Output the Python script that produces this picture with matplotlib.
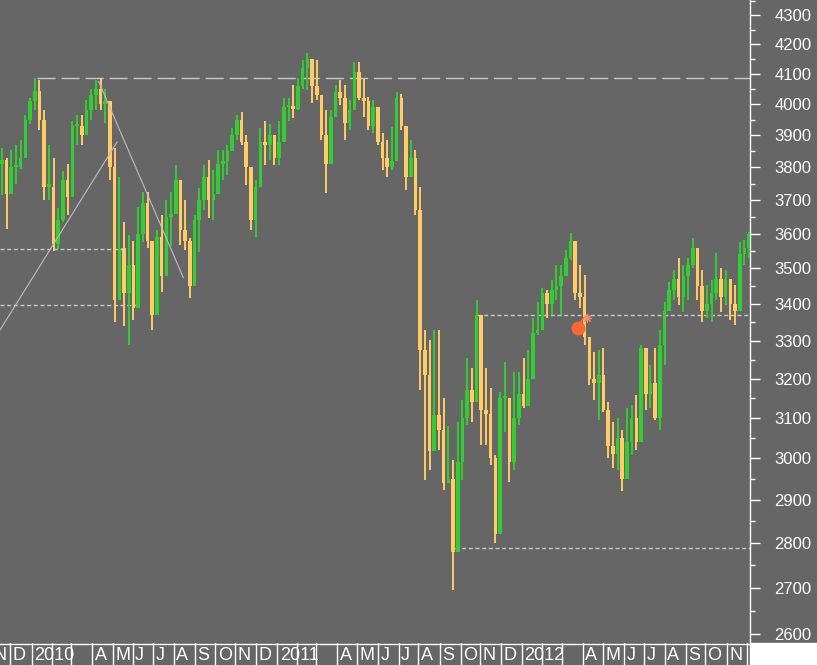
import numpy as np
import pandas as pd
import matplotlib
matplotlib.use("Agg")
import matplotlib.pyplot as plt
from matplotlib.ticker import FixedLocator, FixedFormatter, NullFormatter
from matplotlib.patches import Rectangle

plt.rcParams["font.family"] = ["Liberation Sans", "DejaVu Sans"]
plt.rcParams["lines.scale_dashes"] = False

bg = "#666666"
up_col = "#33cc33"
down_col = "#ffcc66"
line_col = "#c8c8c8"

# weekly candles, first week starts Mon 16 Nov 2009
first_open = 3810
week_close = [
    3823, 3720, 3800, 3800, 3830, 3950, 4010, 4045, 3950, 3740,
    3740, 3570, 3640, 3760, 3710, 3930, 3930, 3900, 3980, 4030,
    4050, 4000, 4010, 3800, 3412, 3560, 3430, 3510, 3390, 3600,
    3690, 3580, 3370, 3590, 3480, 3650, 3660, 3760, 3610, 3580,
    3450, 3640, 3700, 3770, 3700, 3720, 3810, 3820, 3850, 3900,
    3950, 3880, 3800, 3640, 3740, 3880, 3870, 3900, 3830, 3880,
    3990, 3990, 3985, 4060, 4120, 4150, 4060, 4030, 3900, 3810,
    3960, 4040, 4020, 3940, 3980, 4105, 4020, 4010, 3930, 3990,
    3880, 3830, 3800, 3820, 4020, 3930, 3770, 3830, 3670, 3276,
    3210, 3016, 3107, 3069, 2940, 2950, 2780, 2990, 3100, 3170,
    3140, 3370, 3120, 3110, 3000, 2820, 3150, 3150, 2990, 3100,
    3160, 3130, 3200, 3320, 3330, 3430, 3400, 3440, 3450, 3480,
    3530, 3580, 3430, 3420, 3310, 3200, 3190, 3210, 3120, 3030,
    3010, 3050, 2950, 3040, 3100, 3040, 3280, 3160, 3190, 3100,
    3290, 3380, 3440, 3470, 3420, 3480, 3510, 3560, 3450, 3380,
    3400, 3430, 3470, 3420, 3470, 3400, 3380, 3540, 3560, 3600,
]
week_high = [
    3860, 3830, 3854, 3870, 3885, 3965, 4020, 4088, 4080, 3981,
    3870, 3830, 3675, 3790, 3810, 3945, 3965, 3965, 4014, 4050,
    4080, 4085, 4050, 3975, 3860, 3770, 3635, 3597, 3580, 3680,
    3725, 3725, 3530, 3610, 3655, 3700, 3725, 3808, 3715, 3700,
    3588, 3655, 3737, 3808, 3823, 3792, 3854, 3854, 3870, 3923,
    3965, 3975, 3900, 3786, 3761, 3923, 3945, 3935, 3900, 3945,
    4020, 4020, 4063, 4087, 4147, 4170, 4147, 4147, 4024, 3981,
    3981, 4063, 4080, 4063, 4014, 4140, 4140, 4087, 4024, 4014,
    3981, 3907, 3885, 3926, 4040, 4034, 3907, 3885, 3854, 3740,
    3329, 3302, 3329, 3329, 3150, 3080, 2995, 3089, 3145, 3254,
    3228, 3412, 3302, 3228, 3176, 3007, 3166, 3244, 3132, 3218,
    3218, 3254, 3276, 3362, 3406, 3445, 3439, 3467, 3510, 3510,
    3553, 3602, 3538, 3510, 3482, 3297, 3270, 3276, 3281, 3140,
    3089, 3099, 3069, 3125, 3132, 3158, 3289, 3262, 3236, 3281,
    3329, 3406, 3461, 3496, 3530, 3510, 3530, 3588, 3530, 3496,
    3453, 3467, 3544, 3502, 3496, 3453, 3453, 3576, 3582, 3605,
]
week_low = [
    3715, 3615, 3737, 3750, 3795, 3870, 3935, 3981, 3917, 3700,
    3700, 3550, 3555, 3635, 3655, 3785, 3870, 3870, 3900, 3950,
    3981, 3981, 3940, 3760, 3352, 3560, 3340, 3290, 3357, 3520,
    3575, 3560, 3330, 3400, 3435, 3524, 3565, 3665, 3568, 3553,
    3418, 3467, 3547, 3671, 3647, 3641, 3746, 3761, 3776, 3870,
    3885, 3870, 3746, 3611, 3590, 3767, 3808, 3823, 3808, 3808,
    3900, 3945, 3955, 3981, 4050, 4047, 4004, 4014, 3885, 3722,
    3832, 3981, 3997, 3885, 3917, 4014, 4014, 3959, 3917, 3907,
    3870, 3792, 3770, 3792, 3885, 3917, 3731, 3776, 3655, 3171,
    2947, 2971, 3045, 3020, 2923, 2940, 2695, 2895, 2947, 3082,
    3089, 3244, 3032, 3032, 2983, 2800, 2895, 3064, 2942, 2971,
    3082, 3125, 3132, 3254, 3316, 3362, 3362, 3370, 3412, 3370,
    3482, 3524, 3412, 3390, 3289, 3184, 3145, 3094, 3114, 3000,
    2976, 2971, 2920, 3000, 3007, 3020, 3140, 3120, 3125, 3094,
    3069, 3236, 3390, 3412, 3398, 3378, 3412, 3502, 3412, 3352,
    3362, 3352, 3412, 3378, 3398, 3357, 3343, 3453, 3510, 3530,
]

price_ticks = list(range(2600, 4400, 100))
minor_ticks = list(range(2650, 4400, 100))
month_letters = ["", "", "", "A", "M", "J", "J", "A", "S", "O", "N", "D"]

start = pd.Timestamp("2009-11-16")
px_per_day = 0.94
n_days = 750 / px_per_day

close = np.array(week_close, float)
opn = np.concatenate([[first_open], close[:-1]])
high = np.maximum(np.array(week_high, float), np.maximum(opn, close))
low = np.minimum(np.array(week_low, float), np.minimum(opn, close))
xw = np.arange(len(close)) * 5 + 2.0

fig = plt.figure(figsize=(8.17, 6.65), dpi=100, facecolor=bg)
ax = fig.add_axes([0, 22 / 665, 750 / 817, 643 / 665], facecolor=bg)

up = close >= opn
for mask, col in [(up, up_col), (~up, down_col)]:
    ax.vlines(xw[mask], low[mask], high[mask], color=col, lw=1.4, zorder=3)
    bot = np.minimum(opn, close)[mask]
    top = np.maximum(opn, close)[mask]
    top = np.maximum(top, bot * 1.002)
    ax.bar(xw[mask], top - bot, bottom=bot, width=3.8, color=col, lw=0, zorder=3)

# support / resistance lines
ax.plot([39, n_days], [4088, 4088], color=line_col, lw=1, dashes=(13, 4.3), zorder=2)
ax.plot([0, 133], [3557, 3557], color=line_col, lw=1, dashes=(2.9, 1.9), zorder=2)
ax.plot([0, 149], [3398, 3398], color=line_col, lw=1, dashes=(2.9, 1.9), zorder=2)
ax.plot([507, n_days], [3370, 3370], color=line_col, lw=1, dashes=(2.9, 1.9), zorder=2)
ax.plot([484, n_days], [2788, 2788], color=line_col, lw=1, dashes=(2.9, 1.9), zorder=2)
# trend lines
ax.plot([0, 124.5], [3329, 3879], color="#bdbdbd", lw=0.8, zorder=4)
ax.plot([105, 195], [4075, 3474], color="#bdbdbd", lw=0.8, zorder=4)

# bomb marker
ax.plot([615, 621], [3342, 3362], color="#ff6633", lw=1.2, zorder=5)
ax.plot(615, 3335, "o", ms=9, color="#ff6633", mec="#ff6633", zorder=5)
ax.plot(624, 3362, marker=(8, 2, 0), ms=6, color="#ff8866", mew=0.8, zorder=5)

ax.set_yscale("log")
ax.set_ylim(2581, 4354)
ax.set_xlim(0, n_days)
ax.yaxis.tick_right()
ax.yaxis.set_major_locator(FixedLocator(price_ticks))
ax.yaxis.set_major_formatter(FixedFormatter([str(t) for t in price_ticks]))
ax.yaxis.set_minor_locator(FixedLocator(minor_ticks))
ax.yaxis.set_minor_formatter(NullFormatter())
ax.tick_params(axis="y", which="major", colors="white", length=7.5, width=1,
               pad=10, labelsize=12)
ax.tick_params(axis="y", which="minor", colors="white", length=3.8, width=1)
ax.set_xticks([])
for side in ["top", "left", "bottom"]:
    ax.spines[side].set_visible(False)
ax.spines["right"].set_color("white")
ax.spines["right"].set_linewidth(1)

# month strip
ax2 = fig.add_axes([0, 0, 750 / 817, 22 / 665], facecolor=bg)
ax2.set_xlim(0, n_days)
ax2.set_ylim(0, 1)
ax2.set_xticks([])
ax2.set_yticks([])
for s in ax2.spines.values():
    s.set_visible(False)
ax2.axhline(0.97, color="white", lw=1)
for m in pd.date_range("2009-11-01", "2012-12-01", freq="MS"):
    first = pd.bdate_range(m, periods=1)[0]
    if first >= start:
        d = len(pd.bdate_range(start, first)) - 1
    else:
        d = -(len(pd.bdate_range(first, start)) - 1)
    label = str(m.year) if m.month == 1 else month_letters[m.month - 1]
    if m.month == 11 and m.year == 2009:
        label = "N"
    ax2.axvline(d, color="white", lw=1)
    ax2.text(d + 2.5 / px_per_day, 0.42, label, color="white", fontsize=13,
             va="center", ha="left", clip_on=True)

fig.patches.append(Rectangle((750 / 817, 0), 67 / 817, 22 / 665,
                             transform=fig.transFigure, color="white"))

fig.savefig("out.png", dpi=100, facecolor=bg)
